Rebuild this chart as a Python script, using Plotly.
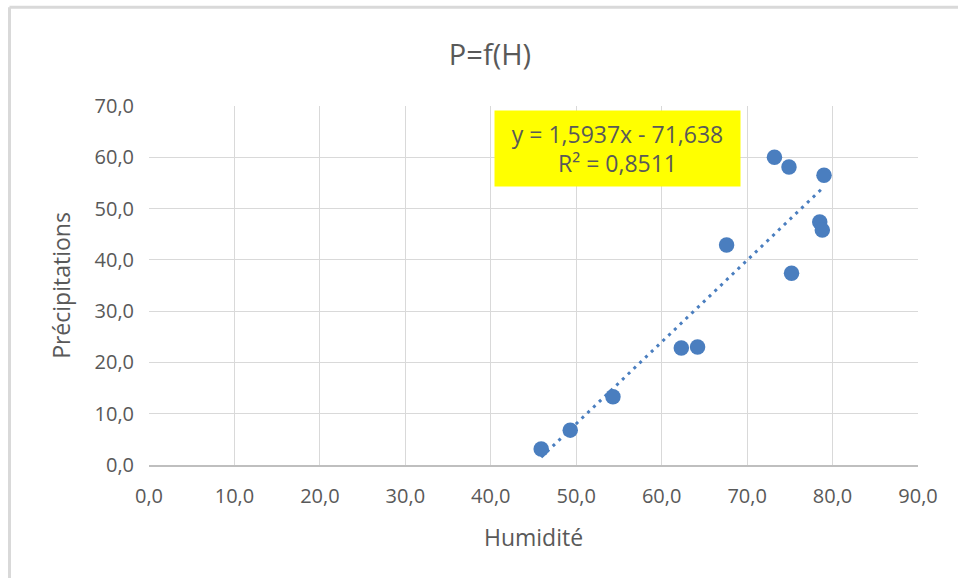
import plotly.graph_objects as go

# Data
humidite = [45.9, 49.3, 54.3, 62.3, 64.2, 67.6, 73.2, 74.9, 75.2, 79.0, 78.5, 78.8]
precipitations = [3.1, 6.8, 13.3, 22.8, 23.0, 42.9, 60.0, 58.1, 37.4, 56.5, 47.4, 45.8]

slope = 1.5937
intercept = -71.638
r2 = 0.8511

x_ticks = [0, 10, 20, 30, 40, 50, 60, 70, 80, 90]
y_ticks = [0, 10, 20, 30, 40, 50, 60, 70]

BLUE = "#4a7ebf"
TXT = "#595959"
FONT = "Open Sans"

x_min, x_max = min(humidite), max(humidite)
trend_x = [x_min, x_max]
trend_y = [slope * v + intercept for v in trend_x]

fig = go.Figure()
fig.add_trace(go.Scatter(
    x=trend_x, y=trend_y, mode="lines",
    line=dict(color=BLUE, width=3, dash="3px,5px"),
    hoverinfo="skip", showlegend=False,
))
fig.add_trace(go.Scatter(
    x=humidite, y=precipitations, mode="markers",
    marker=dict(color=BLUE, size=15.5, line=dict(width=0)),
    showlegend=False,
))

def fmt(v):
    return ("%.4f" % v).rstrip("0").replace(".", ",")

eq_text = "y = " + fmt(slope) + "x - " + fmt(abs(intercept)) + "<br>R² = " + fmt(r2)

fig.add_annotation(
    x=(617 - 149) / 769, y=(465 - 110) / 359, xref="paper", yref="paper",
    xanchor="center", yanchor="top",
    text=eq_text, showarrow=False, align="center",
    font=dict(family=FONT, size=23, color=TXT),
    bgcolor="#ffff00", width=241, height=71, borderpad=2,
)

# outer chart border (Excel-style)
fig.add_shape(type="line", xref="paper", yref="paper",
              x0=-0.1814, x1=1.1, y0=1.275, y1=1.275,
              line=dict(color="#d9d9d9", width=3))
fig.add_shape(type="line", xref="paper", yref="paper",
              x0=-0.1814, x1=-0.1814, y0=-0.4, y1=1.275,
              line=dict(color="#d9d9d9", width=3))

fig.update_layout(
    width=958, height=578,
    margin=dict(l=149, r=40, t=106, b=113),
    paper_bgcolor="white", plot_bgcolor="white",
    separators=", ",
    title=dict(text="P=f(H)", x=490 / 958, xanchor="center",
               y=1 - 55 / 578, yanchor="middle",
               font=dict(family=FONT, size=29, color=TXT)),
    font=dict(family=FONT, color=TXT),
)
fig.update_xaxes(
    range=[0, 90], tickvals=x_ticks, tickformat=".1f",
    showgrid=True, gridcolor="#d9d9d9", gridwidth=1,
    showline=True, linecolor="#bfbfbf", linewidth=1.5,
    zeroline=False, ticks="", ticklabelstandoff=12,
    tickfont=dict(family=FONT, size=20, color=TXT),
    title=dict(text="Humidité", font=dict(family=FONT, size=23, color=TXT), standoff=22),
)
fig.update_yaxes(
    range=[0, 70], tickvals=y_ticks, tickformat=".1f",
    showgrid=True, gridcolor="#d9d9d9", gridwidth=1,
    showline=False, zeroline=False, ticks="", ticklabelstandoff=14,
    tickfont=dict(family=FONT, size=20, color=TXT),
    title=dict(text="Précipitations", font=dict(family=FONT, size=23, color=TXT), standoff=17),
)

fig.write_html("out.html")
